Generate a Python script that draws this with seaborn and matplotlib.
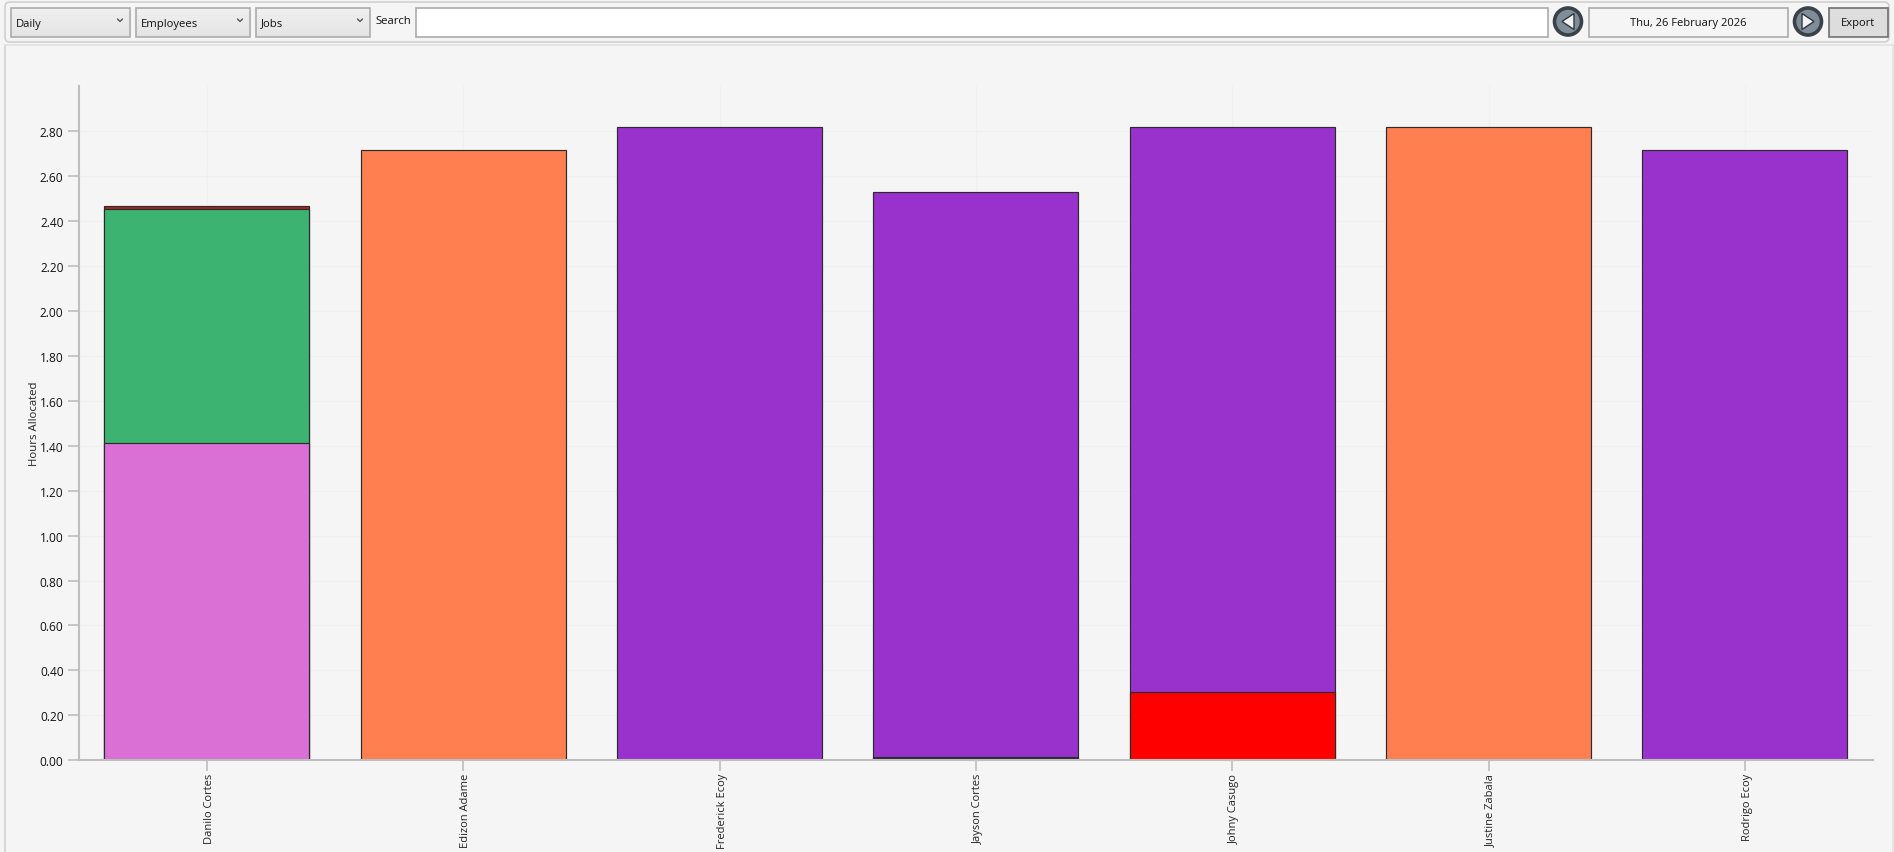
import matplotlib

matplotlib.use("Agg")

import matplotlib.pyplot as plt
import numpy as np
import seaborn as sns
from matplotlib.patches import Circle, FancyBboxPatch, Polygon, Rectangle
from matplotlib.transforms import ScaledTranslation

EMPLOYEES = ["Danilo Cortes", "Edizon Adame", "Frederick Ecoy", "Jayson Cortes",
             "Johny Casugo", "Justine Zabala", "Rodrigo Ecoy"]

# hours per stacked segment, bottom layer first
LAYER_1_HOURS = [1.41, 2.715, 2.82, 0.015, 0.305, 2.82, 2.715]
LAYER_2_HOURS = [1.045, 0.00, 0.00, 2.515, 2.515, 0.00, 0.00]
LAYER_3_HOURS = [0.012, 0.00, 0.00, 0.00, 0.00, 0.00, 0.00]

LAYER_1_COLORS = ["#DA70D6", "#FF7F50", "#9932CC", "#2F2A35", "#FF0000", "#FF7F50", "#9932CC"]
LAYER_2_COLORS = ["#3CB371", "#9932CC", "#9932CC", "#9932CC", "#9932CC", "#9932CC", "#9932CC"]
LAYER_3_COLORS = ["#B22222"] * 7

Y_TICKS = [0.0, 0.2, 0.4, 0.6, 0.8, 1.0, 1.2, 1.4, 1.6, 1.8, 2.0, 2.2, 2.4, 2.6, 2.8]
COMBO_LABELS = ["Daily", "Employees", "Jobs"]

BG = "#F5F5F5"
AXIS_GREY = "#BEBEBE"
WIDTH, HEIGHT = 1894, 853
AXIS_LEFT, AXIS_RIGHT, AXIS_TOP, AXIS_BOTTOM = 78.8, 1873, 87, 761.3
PX_PER_HOUR = 224.7

sns.set_theme(style="white")
plt.rcParams["font.family"] = ["Open Sans", "DejaVu Sans"]

fig = plt.figure(figsize=(WIDTH / 100, HEIGHT / 100), dpi=100, facecolor=BG)
ax = fig.add_axes([AXIS_LEFT / WIDTH, 1 - AXIS_BOTTOM / HEIGHT,
                   (AXIS_RIGHT - AXIS_LEFT) / WIDTH, (AXIS_BOTTOM - AXIS_TOP) / HEIGHT])
ax.set_facecolor("none")

layers = [
    (LAYER_1_HOURS, LAYER_1_COLORS),
    (LAYER_2_HOURS, LAYER_2_COLORS),
    (LAYER_3_HOURS, LAYER_3_COLORS),
]
tops = np.cumsum([layer[0] for layer in layers], axis=0)

# tallest layer first so the lower segments paint over it
for index in reversed(range(len(layers))):
    hours, colors = layers[index]
    keep = [i for i, value in enumerate(hours) if value > 0]
    sns.barplot(
        x=[EMPLOYEES[i] for i in keep],
        y=[tops[index][i] for i in keep],
        order=EMPLOYEES,
        hue=[EMPLOYEES[i] for i in keep],
        palette={EMPLOYEES[i]: colors[i] for i in keep},
        dodge=False,
        legend=False,
        width=0.8,
        saturation=1,
        edgecolor="#2B2B2B",
        linewidth=0.85,
        ax=ax,
    )

ax.grid(True, color="#F0F0F0", linewidth=1)
ax.set_axisbelow(True)
ax.set_xlim(-0.5, 6.5)
ax.set_ylim(0, (AXIS_BOTTOM - AXIS_TOP) / PX_PER_HOUR)
ax.set_yticks(Y_TICKS)
ax.set_yticklabels([f"{tick:.2f}" for tick in Y_TICKS], fontsize=8.6, color="#111111")
ax.set_xticks(range(len(EMPLOYEES)))
ax.set_xticklabels(EMPLOYEES, rotation=90, fontsize=8.0, color="#222222")
ax.tick_params(axis="both", length=8, width=1.2, color=AXIS_GREY, left=True, bottom=True)
ax.tick_params(axis="x", pad=1)
ax.tick_params(axis="y", pad=3)
nudge = ScaledTranslation(2.5 / 100, 0, fig.dpi_scale_trans)
for label in ax.get_xticklabels():
    label.set_transform(label.get_transform() + nudge)
ax.set_xlabel("")
ax.set_ylabel("Hours Allocated", fontsize=8.2, color="#222222")
ax.yaxis.set_label_coords((40 - AXIS_LEFT) / (AXIS_RIGHT - AXIS_LEFT), 0.5)
sns.despine(ax=ax)
for side in ["left", "bottom"]:
    ax.spines[side].set_color(AXIS_GREY)
    ax.spines[side].set_linewidth(1.5)

# toolbar drawn on a pixel-sized overlay
ui = fig.add_axes([0, 0, 1, 1], zorder=5)
ui.set_xlim(0, WIDTH)
ui.set_ylim(HEIGHT, 0)
ui.axis("off")


def gradient_box(x0, x1, y0, y1, top, bottom, border):
    shades = np.linspace(0, 1, 32)[:, None, None]
    start = np.array(matplotlib.colors.to_rgb(top))
    end = np.array(matplotlib.colors.to_rgb(bottom))
    ui.imshow(start + (end - start) * shades, extent=(x0, x1, y1, y0), aspect="auto", zorder=2)
    ui.add_patch(Rectangle((x0, y0), x1 - x0, y1 - y0, fill=False, edgecolor=border, linewidth=1.2, zorder=3))


def nav_button(cx, cy, pointing):
    ui.add_patch(Circle((cx, cy), 13.5, facecolor="#7F8D9A", edgecolor="#3A4148", linewidth=2.6, zorder=3))
    ui.add_patch(Polygon([(cx + 6 * pointing, cy - 8), (cx + 6 * pointing, cy + 8), (cx - 6 * pointing, cy)],
                         facecolor="#F2F2F2", edgecolor="#2F363C", linewidth=1, zorder=4))


ui.add_patch(FancyBboxPatch((5, 3), 1884, 40, boxstyle="round,pad=0,rounding_size=5",
                            facecolor=BG, edgecolor="#D0D0D0", linewidth=1.2, zorder=1))
ui.plot([5, 5], [46, HEIGHT], color="#D0D0D0", linewidth=1.2, zorder=1)
ui.plot([5, 1893], [46, 46], color="#E2E2E2", linewidth=1.2, zorder=1)
ui.plot([1893, 1893], [46, HEIGHT], color="#E2E2E2", linewidth=1.2, zorder=1)

for label, x0, x1 in zip(COMBO_LABELS, [10.5, 135.5, 255.5], [129.5, 249.5, 369.5]):
    gradient_box(x0, x1, 8.5, 37.5, "#F0F0F0", "#E4E4E4", "#ACACAC")
    ui.text(x0 + 5.5, 24, label, fontsize=8.1, color="#111111", va="center", zorder=4)
    ui.plot([x1 - 12, x1 - 9.5, x1 - 7], [20, 22.5, 20], color="#555555", linewidth=1, zorder=4)

ui.text(375, 21, "Search", fontsize=8.1, color="#111111", va="center", zorder=4)
ui.add_patch(Rectangle((415.5, 8.5), 1132.5, 29, facecolor="white", edgecolor="#ABABAB", linewidth=1.2, zorder=3))
nav_button(1568, 22.5, 1)
ui.add_patch(Rectangle((1588.5, 8.5), 199, 29, facecolor=BG, edgecolor="#ABABAB", linewidth=1.2, zorder=3))
ui.text(1688, 23.5, "Thu, 26 February 2026", fontsize=8.05, color="#111111", ha="center", va="center", zorder=4)
nav_button(1808, 22.5, -1)
ui.add_patch(Rectangle((1828.5, 8.5), 59, 29, facecolor="#DDDDDD", edgecolor="#707070", linewidth=1.2, zorder=3))
ui.text(1858, 23.5, "Export", fontsize=8.0, color="#111111", ha="center", va="center", zorder=4)
ui.set_xlim(0, WIDTH)
ui.set_ylim(HEIGHT, 0)

fig.savefig("out.png", dpi=100, facecolor=BG)
